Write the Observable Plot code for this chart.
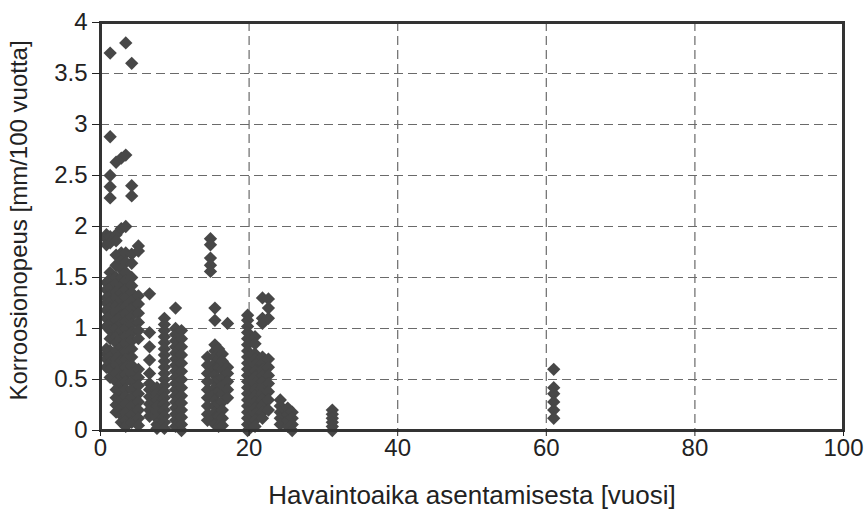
<!DOCTYPE html>
<html>
<head>
<meta charset="utf-8">
<script src="https://cdn.jsdelivr.net/npm/d3@7"></script>
<script src="https://cdn.jsdelivr.net/npm/@observablehq/plot@0.6"></script>
<style>
  body { margin: 0; background: #fff; }
  #chart svg { display: block; }
</style>
</head>
<body>
<div id="chart"></div>
<script>
// Observation age after installation (years), one entry per measured group
const ages = [0.8, 1.3, 2.1, 2.8, 3.4, 4.2, 5.1, 6.6, 7.6, 8.6, 10.1, 10.9,
              14.4, 14.8, 15.4, 15.9, 16.4, 17.1, 19.8, 20.8, 21.8, 22.6, 24.2, 25.2, 25.8, 31.2, 61];

// Corrosion rates (mm / 100 years) measured in each group
const rates = [
  [1.92, 1.88, 1.82, 1.45, 1.38, 1.3, 1.25, 1.18, 1.1, 1.02, 0.8, 0.75, 0.7, 0.62],
  [3.7, 2.88, 2.5, 2.39, 2.28, 1.9, 1.84, 1.55, 1.48, 1.4, 1.32, 1.26, 1.2, 1.12, 1.05, 0.98, 0.9, 0.78, 0.72, 0.66, 0.6, 0.52],
  [2.63, 1.92, 1.86, 1.72, 1.62, 1.5, 1.44, 1.36, 1.3, 1.22, 1.15, 1.08, 1.0, 0.92, 0.86, 0.78, 0.7, 0.64, 0.56, 0.48, 0.4, 0.32, 0.25, 0.18],
  [2.67, 1.98, 1.74, 1.66, 1.58, 1.5, 1.42, 1.35, 1.28, 1.2, 1.12, 1.05, 0.98, 0.9, 0.82, 0.75, 0.68, 0.6, 0.53, 0.46, 0.38, 0.3, 0.22, 0.15, 0.08],
  [3.8, 2.7, 2.0, 1.74, 1.65, 1.55, 1.47, 1.38, 1.3, 1.22, 1.15, 1.07, 1.0, 0.92, 0.85, 0.77, 0.7, 0.62, 0.55, 0.48, 0.4, 0.33, 0.26, 0.18, 0.1, 0.04],
  [3.6, 2.4, 2.3, 1.73, 1.64, 1.5, 1.42, 1.35, 1.27, 1.2, 1.12, 1.04, 0.96, 0.88, 0.8, 0.72, 0.64, 0.56, 0.48, 0.4, 0.32, 0.24, 0.16, 0.08],
  [1.81, 1.76, 1.32, 1.24, 1.15, 1.06, 0.98, 0.9, 0.6, 0.52, 0.44, 0.36, 0.28, 0.2, 0.12, 0.05],
  [1.34, 0.96, 0.82, 0.69, 0.56, 0.46, 0.4, 0.33, 0.26, 0.2, 0.14],
  [0.42, 0.36, 0.3, 0.24, 0.18, 0.12, 0.06, 0.02],
  [1.1, 1.04, 0.98, 0.92, 0.86, 0.8, 0.74, 0.68, 0.62, 0.56, 0.5, 0.44, 0.38, 0.32, 0.26, 0.2, 0.14, 0.08, 0.02],
  [1.2, 1.0, 0.94, 0.88, 0.82, 0.76, 0.7, 0.64, 0.58, 0.52, 0.46, 0.4, 0.34, 0.28, 0.22, 0.16, 0.1, 0.04],
  [0.98, 0.9, 0.82, 0.74, 0.66, 0.58, 0.5, 0.42, 0.34, 0.27, 0.2, 0.13, 0.06, 0.0],
  [0.72, 0.64, 0.56, 0.48, 0.4, 0.32, 0.24, 0.16, 0.1],
  [1.88, 1.82, 1.69, 1.62, 1.56],
  [1.2, 1.08, 0.84, 0.78, 0.72, 0.66, 0.6, 0.54, 0.48, 0.42, 0.36, 0.3, 0.24, 0.18, 0.12, 0.06],
  [0.8, 0.7, 0.62, 0.5, 0.38, 0.26, 0.14, 0.04],
  [0.75, 0.68, 0.6, 0.52, 0.44, 0.36, 0.28, 0.2, 0.12, 0.05],
  [1.05, 0.62, 0.56, 0.48, 0.4, 0.32],
  [1.13, 1.08, 1.02, 0.96, 0.9, 0.84, 0.78, 0.72, 0.66, 0.6, 0.54, 0.48, 0.42, 0.36, 0.3, 0.24, 0.18, 0.12, 0.06, 0.0],
  [0.92, 0.85, 0.75, 0.7, 0.64, 0.58, 0.52, 0.46, 0.4, 0.34, 0.28, 0.22, 0.16, 0.1, 0.04],
  [1.3, 1.1, 1.05, 0.72, 0.66, 0.6, 0.54, 0.48, 0.42, 0.36, 0.3, 0.24, 0.18, 0.12],
  [1.29, 1.2, 1.1, 0.7, 0.62, 0.54, 0.46, 0.38, 0.3, 0.2],
  [0.3, 0.24, 0.18, 0.12, 0.06],
  [0.22, 0.16, 0.1, 0.04],
  [0.18, 0.12, 0.06, 0.0],
  [0.2, 0.16, 0.12, 0.08, 0.04, 0.0],
  [0.6, 0.42, 0.36, 0.28, 0.2, 0.12]
];

const xTicks = [0, 20, 40, 60, 80, 100];
const yTicks = [0, 0.5, 1, 1.5, 2, 2.5, 3, 3.5, 4];

const xTitle = "Havaintoaika asentamisesta [vuosi]";
const yTitle = "Korroosionopeus [mm/100 vuotta]";

const points = ages.flatMap((age, i) => rates[i].map(rate => ({age, rate})));

const gridStyle = {stroke: "#6a6a6a", strokeOpacity: 1, strokeWidth: 1.2, strokeDasharray: "9,5"};

const chart = Plot.plot({
  width: 864,
  height: 521,
  marginLeft: 100,
  marginRight: 21,
  marginTop: 22,
  marginBottom: 91,
  style: {fontFamily: "'Liberation Sans', Arial, sans-serif", fontSize: "24px", color: "#222", background: "#fff"},
  x: {domain: [0, 100]},
  y: {domain: [0, 4]},
  marks: [
    Plot.gridY(yTicks.slice(1, -1), gridStyle),
    Plot.gridX(xTicks.slice(1, -1), gridStyle),
    Plot.dot(points, {x: "age", y: "rate", symbol: "diamond2", r: 6, fill: "#474747", stroke: null}),
    Plot.frame({stroke: "#333", strokeWidth: 3}),
    Plot.axisY(yTicks, {
      tickSize: 8, tickPadding: 5, tickFormat: d => String(d),
      label: null
    }),
    Plot.axisX(xTicks, {
      tickSize: 6, tickPadding: 2, tickFormat: d => String(d),
      label: null
    }),
    // axis titles
    Plot.text([yTitle], {
      frameAnchor: "left", textAnchor: "middle", dx: -81, dy: -6, rotate: -90, text: d => d,
      fontSize: 24, fill: "#222"
    }),
    Plot.text([xTitle], {
      frameAnchor: "bottom", dy: 73, text: d => d,
      fontSize: 26, fill: "#222"
    })
  ]
});

document.getElementById("chart").appendChild(chart);
</script>
</body>
</html>
